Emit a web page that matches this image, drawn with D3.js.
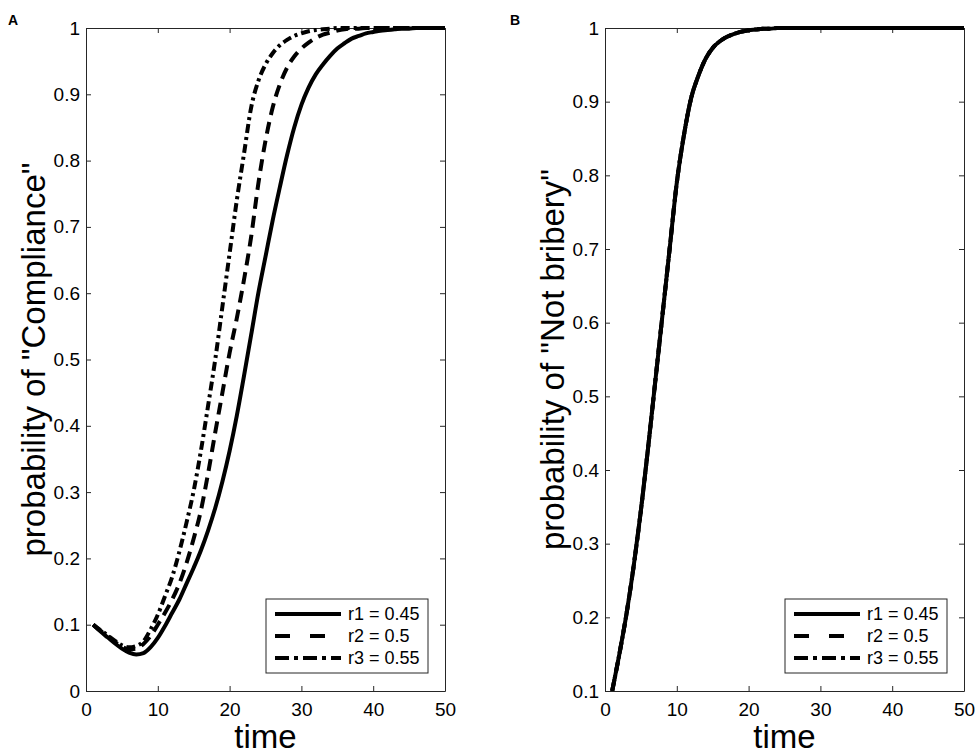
<!DOCTYPE html>
<html>
<head>
<meta charset="utf-8">
<script src="https://cdn.jsdelivr.net/npm/d3@7"></script>
<style>
  body { margin: 0; background: #fff; }
  svg { font-family: "Liberation Sans", Arial, sans-serif; }
</style>
</head>
<body>
<script>
var w = 976,
    h = 754;

// time steps shared by every curve
var times = [1, 2, 3, 4, 5, 6, 7, 8, 9, 10, 11, 12, 13, 14, 15, 16, 17, 18, 19, 20,
             21, 22, 23, 24, 25, 26, 27, 28, 29, 30, 31, 32, 33, 34, 35, 36, 37, 38, 39, 40,
             41, 42, 43, 44, 45, 46, 47, 48, 49, 50];

// panel A: probability of "Compliance"
var compR1 = [0.100, 0.090, 0.081, 0.072, 0.064, 0.058, 0.055, 0.057, 0.066, 0.080,
              0.098, 0.118, 0.138, 0.162, 0.186, 0.212, 0.242, 0.276, 0.316, 0.362,
              0.415, 0.475, 0.537, 0.600, 0.655, 0.710, 0.760, 0.808, 0.850, 0.884,
              0.910, 0.930, 0.945, 0.958, 0.969, 0.977, 0.984, 0.988, 0.992, 0.994,
              0.996, 0.997, 0.998, 0.999, 0.999, 1.000, 1.000, 1.000, 1.000, 1.000];
var compR2 = [0.100, 0.091, 0.083, 0.074, 0.067, 0.063, 0.064, 0.071, 0.083, 0.100,
              0.118, 0.138, 0.162, 0.193, 0.230, 0.272, 0.328, 0.390, 0.450, 0.510,
              0.562, 0.620, 0.685, 0.765, 0.830, 0.880, 0.915, 0.940, 0.957, 0.969,
              0.978, 0.985, 0.990, 0.993, 0.996, 0.998, 0.999, 0.999, 1.000, 1.000,
              1.000, 1.000, 1.000, 1.000, 1.000, 1.000, 1.000, 1.000, 1.000, 1.000];
var compR3 = [0.100, 0.092, 0.084, 0.076, 0.069, 0.066, 0.068, 0.075, 0.093, 0.115,
              0.143, 0.172, 0.210, 0.254, 0.302, 0.362, 0.430, 0.500, 0.580, 0.660,
              0.740, 0.810, 0.880, 0.920, 0.945, 0.962, 0.974, 0.982, 0.988, 0.992,
              0.995, 0.997, 0.998, 0.999, 1.000, 1.000, 1.000, 1.000, 1.000, 1.000,
              1.000, 1.000, 1.000, 1.000, 1.000, 1.000, 1.000, 1.000, 1.000, 1.000];

// panel B: probability of "Not bribery" (the three r values give the same curve)
var notBribery = [0.100, 0.150, 0.205, 0.270, 0.345, 0.430, 0.520, 0.610, 0.700, 0.790,
                  0.855, 0.905, 0.935, 0.958, 0.973, 0.982, 0.988, 0.992, 0.995, 0.997,
                  0.998, 0.999, 0.999, 1.000, 1.000, 1.000, 1.000, 1.000, 1.000, 1.000,
                  1.000, 1.000, 1.000, 1.000, 1.000, 1.000, 1.000, 1.000, 1.000, 1.000,
                  1.000, 1.000, 1.000, 1.000, 1.000, 1.000, 1.000, 1.000, 1.000, 1.000];

var seriesNames = ['r1 = 0.45', 'r2 = 0.5', 'r3 = 0.55'];
var xTicks = [0, 10, 20, 30, 40, 50];
var yTicksA = [0, 0.1, 0.2, 0.3, 0.4, 0.5, 0.6, 0.7, 0.8, 0.9, 1];
var yTicksB = [0.1, 0.2, 0.3, 0.4, 0.5, 0.6, 0.7, 0.8, 0.9, 1];

var plotDash = [null, '12,7', '9,4,3,4'];
var legendDash = [null, '15,20', '14,5,4,5'];

var svg = d3.select('body')
          .append('svg')
          .attr('width', w)
          .attr('height', h);

var fmt = function(d) { return String(+d.toFixed(1)); };

function panel(opts) {
  var left = opts.left, right = opts.left + 359,
      top = 28, bottom = 691;

  var x = d3.scaleLinear().domain([0, 50]).range([left, right]);
  var y = d3.scaleLinear().domain(opts.yDomain).range([bottom, top]);

  var g = svg.append('g');

  // inward ticks on all four sides, labels only bottom/left
  g.append('g')
    .attr('transform', 'translate(0,' + bottom + ')')
    .call(d3.axisBottom(x).tickValues(xTicks).tickFormat(fmt)
          .tickSizeInner(-5).tickSizeOuter(0).tickPadding(12));
  g.append('g')
    .attr('transform', 'translate(0,' + top + ')')
    .call(d3.axisTop(x).tickValues(xTicks).tickFormat('')
          .tickSizeInner(-5).tickSizeOuter(0));
  g.append('g')
    .attr('transform', 'translate(' + left + ',0)')
    .call(d3.axisLeft(y).tickValues(opts.yTicks).tickFormat(fmt)
          .tickSizeInner(-5).tickSizeOuter(0).tickPadding(6));
  g.append('g')
    .attr('transform', 'translate(' + right + ',0)')
    .call(d3.axisRight(y).tickValues(opts.yTicks).tickFormat('')
          .tickSizeInner(-5).tickSizeOuter(0));

  g.selectAll('.domain, .tick line').attr('stroke', '#262626');
  g.selectAll('.tick text')
    .attr('font-size', 19)
    .attr('fill', '#000')
    .attr('font-family', '"Liberation Sans", Arial, sans-serif');

  var line = d3.line()
    .x(function(d, i) { return x(times[i]); })
    .y(function(d) { return y(d); })
    .curve(d3.curveMonotoneX);

  var clip = 'clip' + opts.tag;
  svg.append('clipPath').attr('id', clip)
    .append('rect')
    .attr('x', left).attr('y', top - 3)
    .attr('width', right - left).attr('height', bottom - top + 3);

  // draw last series first so the solid line sits on top
  opts.series.slice().reverse().forEach(function(vals, k) {
    var i = opts.series.length - 1 - k;
    g.append('path')
      .attr('d', line(vals))
      .attr('clip-path', 'url(#' + clip + ')')
      .attr('fill', 'none')
      .attr('stroke', '#000')
      .attr('stroke-width', 4)
      .attr('stroke-dasharray', plotDash[i]);
  });

  // legend
  var lx = left + 180, ly = 599;
  var lg = g.append('g');
  lg.append('rect')
    .attr('x', lx).attr('y', ly)
    .attr('width', 162).attr('height', 74)
    .attr('fill', '#fff')
    .attr('stroke', '#262626')
    .attr('stroke-width', 1);
  seriesNames.forEach(function(name, i) {
    var yy = ly + 15 + i * 22;
    lg.append('line')
      .attr('x1', lx + 9).attr('x2', lx + 75)
      .attr('y1', yy).attr('y2', yy)
      .attr('stroke', '#000')
      .attr('stroke-width', 4)
      .attr('stroke-dasharray', legendDash[i]);
    lg.append('text')
      .attr('x', lx + 82).attr('y', yy)
      .attr('dy', '0.35em')
      .attr('font-size', 18)
      .text(name);
  });

  // axis titles
  g.append('text')
    .attr('x', (left + right) / 2).attr('y', 748)
    .attr('text-anchor', 'middle')
    .attr('font-size', 33)
    .text('time');
  g.append('text')
    .attr('transform', 'translate(' + (left - 41) + ',' + ((top + bottom) / 2) + ') rotate(-90)')
    .attr('text-anchor', 'middle')
    .attr('font-size', 33)
    .text(opts.yTitle);

  g.append('text')
    .attr('x', opts.tagX).attr('y', 25)
    .attr('font-size', 14)
    .attr('font-weight', 'bold')
    .text(opts.tag);
}

panel({
  tag: 'A', tagX: 8, left: 86,
  yDomain: [0, 1], yTicks: yTicksA,
  series: [compR1, compR2, compR3],
  yTitle: 'probability of "Compliance"'
});

panel({
  tag: 'B', tagX: 510, left: 605,
  yDomain: [0.1, 1], yTicks: yTicksB,
  series: [notBribery, notBribery, notBribery],
  yTitle: 'probability of "Not bribery"'
});
</script>
</body>
</html>
